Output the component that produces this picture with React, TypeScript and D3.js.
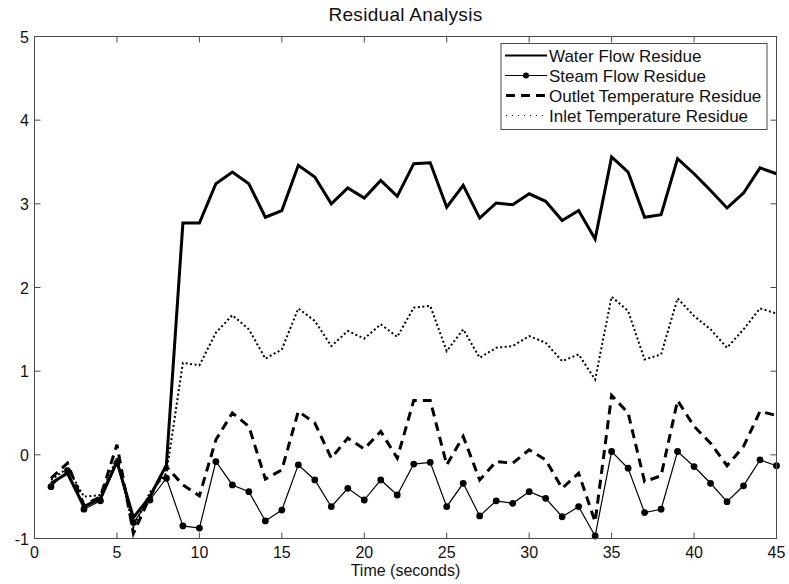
import React from "react";
import * as d3 from "d3";

const xValues = d3.range(1, 46);
const waterFlow = [-0.34, -0.22, -0.62, -0.52, -0.08, -0.75, -0.5, -0.12, 2.77, 2.77, 3.24, 3.38, 3.24, 2.84, 2.92, 3.46, 3.32, 3.0, 3.19, 3.07, 3.28, 3.09, 3.48, 3.49, 2.96, 3.22, 2.83, 3.01, 2.99, 3.12, 3.03, 2.8, 2.92, 2.58, 3.56, 3.38, 2.84, 2.87, 3.54, 3.36, 3.16, 2.95, 3.13, 3.43, 3.36];
const steamFlow = [-0.38, -0.19, -0.65, -0.55, -0.1, -0.81, -0.54, -0.28, -0.85, -0.875, -0.08, -0.36, -0.44, -0.79, -0.66, -0.12, -0.3, -0.62, -0.4, -0.54, -0.3, -0.48, -0.11, -0.09, -0.62, -0.34, -0.73, -0.55, -0.58, -0.44, -0.52, -0.74, -0.62, -0.97, 0.04, -0.16, -0.69, -0.65, 0.04, -0.14, -0.34, -0.56, -0.37, -0.06, -0.13];
const outletTemp = [-0.28, -0.1, -0.6, -0.5, 0.12, -0.94, -0.5, -0.14, -0.36, -0.49, 0.18, 0.5, 0.34, -0.29, -0.18, 0.52, 0.38, -0.04, 0.2, 0.07, 0.28, -0.04, 0.65, 0.65, -0.12, 0.22, -0.3, -0.08, -0.1, 0.06, -0.06, -0.4, -0.22, -0.8, 0.71, 0.5, -0.32, -0.25, 0.65, 0.34, 0.14, -0.13, 0.1, 0.52, 0.47];
const inletTemp = [-0.3, -0.16, -0.5, -0.48, -0.04, -0.87, -0.45, -0.22, 1.1, 1.07, 1.46, 1.67, 1.5, 1.15, 1.26, 1.75, 1.6, 1.3, 1.48, 1.39, 1.56, 1.41, 1.76, 1.78, 1.24, 1.5, 1.16, 1.28, 1.3, 1.42, 1.34, 1.12, 1.2, 0.9, 1.89, 1.72, 1.14, 1.2, 1.87, 1.66, 1.5, 1.28, 1.5, 1.75, 1.69];

const xTicks = [0, 5, 10, 15, 20, 25, 30, 35, 40, 45];
const yTicks = [-1, 0, 1, 2, 3, 4, 5];
const seriesNames = ["Water Flow Residue", "Steam Flow Residue", "Outlet Temperature Residue", "Inlet Temperature Residue"];

const W = 789, H = 584;
const left = 34.5, right = 776.5, top = 36.5, bottom = 538.5;
const FONT = "'Liberation Sans', Arial, Helvetica, sans-serif";
const AX = "#4a4a4a";

export default function App() {
  const x = d3.scaleLinear().domain([0, 45]).range([left, right]);
  const y = d3.scaleLinear().domain([-1, 5]).range([bottom, top]);
  const line = (vals: number[]) =>
    d3.line<number>().x((_, i) => x(xValues[i])).y((v) => y(v))(vals) || "";
  const tl = 6;
  const legX = 501, legY = 43.5, legW = 266, legH = 86;
  const rowY = (i: number) => 55.5 + i * 20;
  return (
    <svg width={W} height={H} style={{ position: "absolute", left: 0, top: 0, background: "#fff" }} fontFamily={FONT}>
      <rect x={0} y={0} width={W} height={H} fill="#fff" />
      {/* data */}
      <path d={line(waterFlow)} fill="none" stroke="#000" strokeWidth={3} strokeLinejoin="miter" />
      <path d={line(steamFlow)} fill="none" stroke="#000" strokeWidth={1.2} />
      {steamFlow.map((v, i) => (
        <circle key={i} cx={x(xValues[i])} cy={y(v)} r={3.4} fill="#000" />
      ))}
      <path d={line(outletTemp)} fill="none" stroke="#000" strokeWidth={3} strokeDasharray="9,6" />
      <path d={line(inletTemp)} fill="none" stroke="#000" strokeWidth={2} strokeDasharray="2,2.5" />
      {/* axes box */}
      <rect x={left} y={top} width={right - left} height={bottom - top} fill="none" stroke={AX} strokeWidth={1} />
      {xTicks.map((t) => (
        <g key={"x" + t}>
          <line x1={x(t)} x2={x(t)} y1={bottom} y2={bottom - tl} stroke={AX} />
          <line x1={x(t)} x2={x(t)} y1={top} y2={top + tl} stroke={AX} />
          <text x={x(t)} y={558} textAnchor="middle" fontSize={16} fill="#111">{t}</text>
        </g>
      ))}
      {yTicks.map((t) => (
        <g key={"y" + t}>
          <line x1={left} x2={left + tl} y1={y(t)} y2={y(t)} stroke={AX} />
          <line x1={right} x2={right - tl} y1={y(t)} y2={y(t)} stroke={AX} />
          <text x={29} y={y(t) + 6} textAnchor="end" fontSize={16} fill="#111">{t < 0 ? "-" + Math.abs(t) : t}</text>
        </g>
      ))}
      <text x={(left + right) / 2} y={21} textAnchor="middle" fontSize={19} letterSpacing={0.3} fill="#111">Residual Analysis</text>
      <text x={(left + right) / 2} y={576} textAnchor="middle" fontSize={16} fill="#111">Time (seconds)</text>
      {/* legend */}
      <rect x={legX} y={legY} width={legW} height={legH} fill="#fff" stroke={AX} strokeWidth={1} />
      <line x1={505} x2={547} y1={rowY(0)} y2={rowY(0)} stroke="#000" strokeWidth={2} />
      <line x1={505} x2={547} y1={rowY(1)} y2={rowY(1)} stroke="#000" strokeWidth={1.2} />
      <circle cx={526} cy={rowY(1)} r={3} fill="#000" />
      <line x1={506} x2={547} y1={rowY(2)} y2={rowY(2)} stroke="#000" strokeWidth={3} strokeDasharray="9,6" />
      <line x1={506} x2={547} y1={rowY(3)} y2={rowY(3)} stroke="#000" strokeWidth={1} strokeDasharray="1,5" />
      {seriesNames.map((s, i) => (
        <text key={s} x={549} y={rowY(i) + 6} fontSize={17} fill="#111">{s}</text>
      ))}
    </svg>
  );
}
